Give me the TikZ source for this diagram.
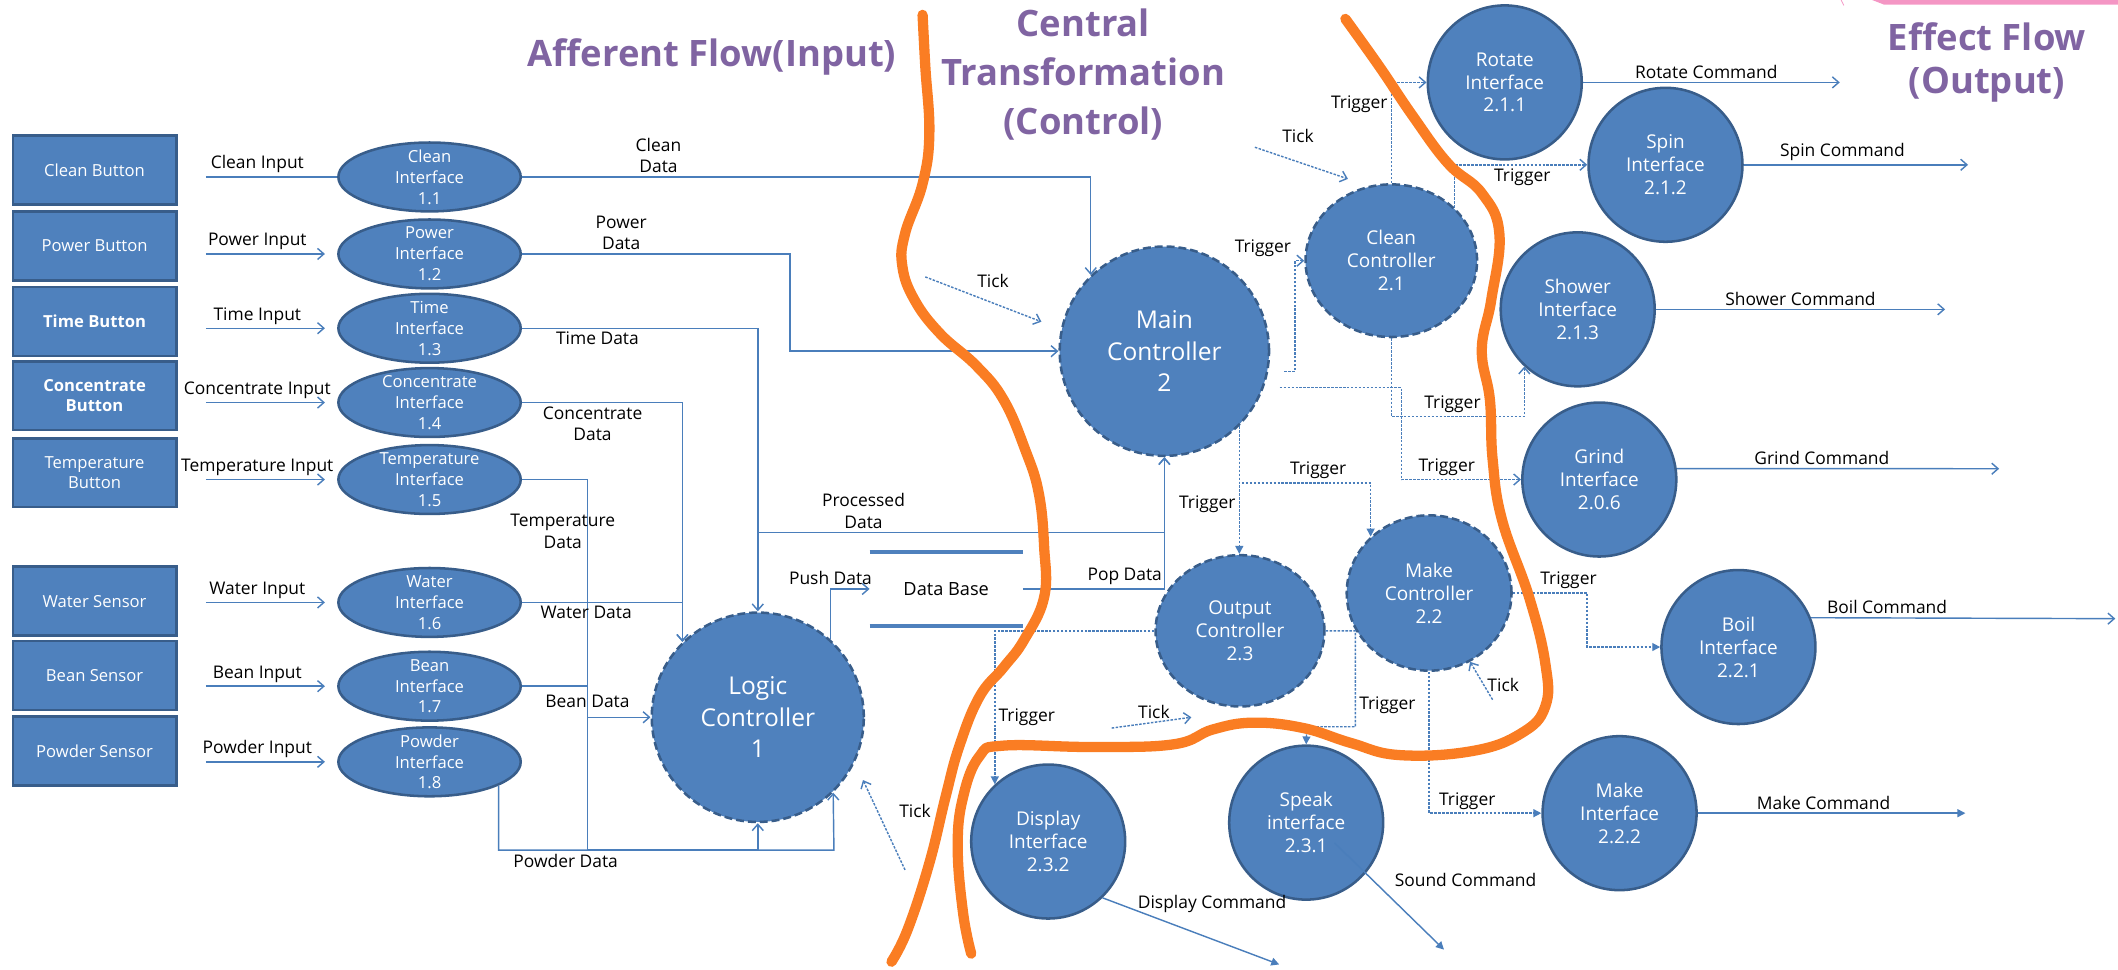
\documentclass[tikz,border=0pt]{standalone}
\usepackage{fontspec}
\setmainfont{Open Sans}
\usetikzlibrary{arrows.meta,calc,positioning,shapes.geometric}
\definecolor{nodefill}{RGB}{79,129,189}
\definecolor{nodeline}{RGB}{56,93,138}
\definecolor{flowblue}{RGB}{74,126,187}
\definecolor{cutorange}{RGB}{250,125,35}
\definecolor{titlepurple}{RGB}{128,100,162}
\definecolor{decopink}{RGB}{244,150,196}

\begin{document}
\begin{tikzpicture}[x=0.3mm, y=-0.3mm,
    box/.style={draw=nodeline, line width=1.6pt, fill=nodefill, text=white, minimum width=36.3mm, minimum height=15.3mm, inner sep=0pt, align=center, font=\fontsize{10.5}{12.5}\selectfont},
    ifc/.style={ellipse, draw=nodeline, line width=1.6pt, fill=nodefill, text=white, minimum width=40.5mm, minimum height=15.3mm, inner xsep=0pt, inner ysep=-5pt, align=center, font=\fontsize{10.5}{13.2}\selectfont},
    ctl/.style={ellipse, draw=nodeline, line width=1.6pt, dash pattern=on 5pt off 2.5pt, fill=nodefill, text=white, inner sep=0pt, align=center, font=\fontsize{12}{14.5}\selectfont},
    big/.style={ctl, font=\fontsize{15.5}{20}\selectfont},
    cmdif/.style={circle, draw=nodeline, line width=1.6pt, fill=nodefill, text=white, minimum size=34.2mm, inner sep=0pt, align=center, font=\fontsize{12}{14.5}\selectfont},
    lbl/.style={text=black, inner sep=2pt, align=center, font=\fontsize{11}{13.6}\selectfont},
    ttl/.style={text=titlepurple, align=center, font=\fontsize{23}{31}\selectfont\bfseries},
    flow/.style={draw=flowblue, line width=0.9pt, -{Straight Barb[length=4pt,width=7pt]}},
    trig/.style={flow, dash pattern=on 1.6pt off 0.9pt},
    trigf/.style={trig, -{Triangle[length=5pt,width=5pt]}},
    cutline/.style={draw=cutorange, line width=6.5pt, line cap=round, line join=round},
  ]
\useasboundingbox (0,0) rectangle (1568,718);

\foreach \i/\yb/\yi/\btxt/\itxt in {
    1/126/131/Clean Button/Clean,
    2/182/188/Power Button/Power,
    3/238/243/\textbf{Time Button}/Time,
    4/293/298/\textbf{Concentrate}\\\textbf{Button}/Concentrate,
    5/350/355/Temperature\\Button/Temperature,
    6/445/446/Water Sensor/Water,
    7/500/508/Bean Sensor/Bean,
    8/556/564/Powder Sensor/Powder}{
  \node[box] (B\i) at (70,\yb) {\btxt};
  \node[ifc] (I\i) at (318,\yi) {\itxt\\Interface\\1.\i};
}

\node[big, minimum size=46.5mm] (M) at (862,260) {Main\\Controller\\2};
\node[big, minimum width=47.1mm, minimum height=46.5mm] (L) at (561,531) {Logic\\Controller\\1};
\node[ctl, minimum width=38.1mm, minimum height=33.9mm] (C21) at (1030,193) {Clean\\Controller\\2.1};
\node[ctl, minimum width=36.6mm, minimum height=34.5mm] (C22) at (1058,439) {Make\\Controller\\2.2};
\node[ctl, minimum width=37.5mm, minimum height=33.6mm] (C23) at (918,467) {Output\\Controller\\2.3};
\node[cmdif] (I211) at (1114,61) {Rotate\\Interface\\2.1.1};
\node[cmdif] (I212) at (1233,122) {Spin\\Interface\\2.1.2};
\node[cmdif] (I213) at (1168,229) {Shower\\Interface\\2.1.3};
\node[cmdif] (I206) at (1184,355) {Grind\\Interface\\2.0.6};
\node[cmdif] (I221) at (1287,479) {Boil\\Interface\\2.2.1};
\node[cmdif] (I222) at (1199,602) {Make\\Interface\\2.2.2};
\node[cmdif] (I231) at (967,609) {Speak\\interface\\2.3.1};
\node[cmdif] (I232) at (776,623) {Display\\Interface\\2.3.2};
\node[lbl, minimum width=33.9mm, minimum height=16.2mm, inner sep=0pt, font=\fontsize{11.5}{14}\selectfont] (DB) at (700.5,436) {Data Base};
\draw[nodefill, line width=2.5pt] (DB.north west) -- (DB.north east) (DB.south west) -- (DB.south east);

\draw[flow, -, shorten <=6.3mm] (B1.east |- I1.west) -- (I1.west) node[lbl, midway, above] {Clean Input};
\foreach \i/\txt in {2/Power Input, 3/Time Input, 4/Concentrate Input, 5/Temperature Input, 6/Water Input, 7/Bean Input, 8/Powder Input}
  \draw[flow, shorten <=6.3mm, shorten >=2.7mm] (B\i.east |- I\i.west) -- (I\i.west) node[lbl, midway, above] {\txt};

\draw[flow] (I1.east) -| (M.134) node[lbl, pos=0.12, above] {Clean\\Data};
\draw[flow] (I2.east) -- ++(198.5,0) node[lbl, pos=0.37, above] {Power\\Data} |- (M.west);
\draw[flow] (I3.east) -| (L.north) node[lbl, pos=0.16, below] {Time Data};
\draw[flow] (I4.east) -| (L.135) node[lbl, pos=0.22, below] {Concentrate\\Data};
\draw[flow] (I5.east) -| ++(48.5,274) node[lbl, pos=0.57, xshift=-5.5mm] {Temperature\\Data} -| (L.south);
\draw[flow] (I6.east) -| (L.135) node[lbl, pos=0.2, below] {Water Data};
\draw[flow] (I7.east) -| ++(48.5,22) node[lbl, pos=0.75] {Bean Data} |- (L.west);
\draw[flow] (I8.-19) |- ++(248.3,47.8) node[lbl, pos=0.6, below] {Powder Data} -- (L.-45);
\draw[flow] (L.north) ++(0,-58.5) -| (M.south) node[lbl, pos=0.13, above] {Processed\\Data};
\draw[flow] (L.47) |- (DB.west) node[lbl, pos=0.5, above] {Push Data};
\draw[flow] (DB.east) -| (M.south) node[lbl, pos=0.36, above] {Pop Data};

\draw[trig] ([xshift=3.5mm]M.-11) -- ++(8,0) |- (C21.west) node[lbl, pos=0.5, above left] {Trigger};
\draw[trig] ([xshift=3.5mm]M.-20) -- ++(90,0) |- (I206.west) node[lbl, pos=0.69, above] {Trigger};
\draw[trig] (C21.south) -- ++(0,58) -| (I213.-133) node[lbl, pos=0.23, above] {Trigger};
\draw[trigf] (M.-45) -- (M.-45 |- C23.north) node[lbl, pos=0.61, left] {Trigger};
\draw[trigf] (M.-45) -- ++(0,42) -| (C22.136) node[lbl, pos=0.3, above] {Trigger};
\draw[trigf] (C22.east) -- ++(55,0) node[lbl, pos=0.75, above] {Trigger} |- (I221.west);
\draw[trigf] (C23.west) -| (I232.133) node[lbl, pos=0.78, right] {Trigger};
\draw[trigf] (C23.east) -- ++(22,0) |- ++(-36,71) node[lbl, pos=0.39, right] {Trigger} -- (I231.north);
\draw[trigf] (C22.south) |- (I222.west) node[lbl, pos=0.67, above] {Trigger};
\draw[trig] (C21.north) |- (I211.west) node[lbl, pos=0.39, left] {Trigger};
\draw[trig] (C21.40) |- (I212.west) node[lbl, pos=0.755, below] {Trigger};

\coordinate (t1) at (685,205);
\coordinate (t2) at (929,109);
\coordinate (t3) at (823,539);
\coordinate (t3e) at (882,531);
\coordinate (t4) at (1105,518);
\coordinate (t5) at (670,644);
\draw[trig, shorten >=4.6mm] (t1) -- (M.168) node[lbl, pos=0.5, above=2.5mm] {Tick};
\draw[trig, shorten >=4.8mm] (t2) -- (C21.107) node[lbl, pos=0.38, above=3.5mm] {Tick};
\draw[trig] (t3) -- (t3e) node[lbl, pos=0.53, above] {Tick};
\draw[trig] (t4) -- (C22) node[lbl, pos=0.4, right] {Tick};
\draw[trig, shorten >=4.3mm] (t5) -- (L.-25) node[lbl, pos=0.55, right=4mm] {Tick};

\coordinate (rc) at (1362,61);
\coordinate (sc) at (1457,122);
\coordinate (shc) at (1440,229);
\coordinate (gc) at (1480,347);
\coordinate (bc) at (1566,458);
\coordinate (mc) at (1455,602);
\coordinate (dc) at (947,714);
\coordinate (snd) at (1069,703);
\draw[flow] (I211.east) -- (rc) node[lbl, pos=0.48, above] {Rotate Command};
\draw[flow] (I212.east) -- (sc) node[lbl, pos=0.44, above] {Spin Command};
\draw[flow] (I213.east) -- (shc) node[lbl, pos=0.5, above] {Shower Command};
\draw[flow] (I206.8) -- (gc) node[lbl, pos=0.45, above] {Grind Command};
\draw[flow] (I221.22) -- (bc) node[lbl, pos=0.25, above] {Boil Command};
\draw[flow, -{Triangle[length=5pt,width=5pt]}] (I222.east) -- (mc) node[lbl, pos=0.47, above] {Make Command};
\draw[flow, -{Triangle[length=5pt,width=5pt]}] (I232.-46) -- (dc) node[lbl, pos=0.62, above=5mm] {Display Command};
\draw[flow, -{Triangle[length=5pt,width=5pt]}] ($(I231)+(21,15)$) -- (snd) node[lbl, pos=0.35, right=4mm] {Sound Command};

\draw[cutline] plot[smooth, tension=0.7] coordinates {(683,11) (685,49) (688,99) (683,136) (670,173) (668,197) (677,222) (696,247) (723,271) (743,296) (759,333) (769,365) (773,405) (773,442) (758,474) (743,494) (725,516) (710,553) (700,590) (688,639) (672,688) (660,712)};
\draw[cutline] plot[smooth, tension=0.7] coordinates {(996,14) (1021,49) (1046,86) (1072,121) (1097,143) (1110,173) (1104,222) (1097,259) (1103,296) (1105,340) (1112,385) (1132,442) (1144,491) (1144,523) (1126,543) (1090,556) (1036,559) (1000,550) (965,539) (928,535) (898,540) (869,551) (809,553) (743,552) (725,560) (713,590) (709,627) (713,676) (719,706)};

\node[ttl] (AF) at (527,42) {Afferent Flow(Input)};
\node[ttl] (CT) at (802,55) {Central\\Transformation\\(Control)};
\node[ttl, font=\fontsize{23}{27}\selectfont\bfseries] (EF) at (1471,46) {Effect Flow\\(Output)};

\fill[decopink] (1386,0) -- (1568,0) -- (1568,3.5) -- (1395,3.5) -- cycle;
\draw[decopink, line width=0.5pt] (1363,0) -- (1365,4);
\end{tikzpicture}
\end{document}
